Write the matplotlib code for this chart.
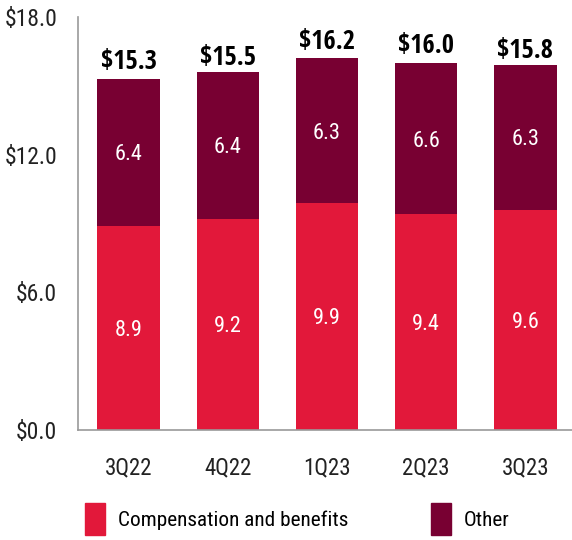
import matplotlib.pyplot as plt
import numpy as np
from matplotlib import font_manager
from matplotlib.patches import Patch

quarters = ["3Q22", "4Q22", "1Q23", "2Q23", "3Q23"]
comp = [8.9, 9.2, 9.9, 9.4, 9.6]
other = [6.4, 6.4, 6.3, 6.6, 6.3]
totals = [15.3, 15.5, 16.2, 16.0, 15.8]

red = "#E2183A"
maroon = "#780032"

# condensed font for regular text: light Open Sans Condensed if present
light_ok = any(f.name == 'Open Sans Condensed' and int(f.weight) <= 400
               for f in font_manager.fontManager.ttflist)
reg_family = ['Open Sans Condensed' if light_ok else 'Roboto Condensed', 'DejaVu Sans']
reg_weight = 300 if light_ok else 'normal'
bold_family = ['Open Sans Condensed', 'DejaVu Sans']

plt.rcParams['font.family'] = reg_family
plt.rcParams['font.weight'] = reg_weight

fig = plt.figure(figsize=(5.72, 5.4), dpi=100)
ax = fig.add_axes([78 / 572, 1 - 430 / 540, 494 / 572, 413 / 540])

x = np.arange(len(quarters))
w = 0.63
ax.bar(x, comp, w, color=red)
ax.bar(x, other, w, bottom=comp, color=maroon)

for i in range(len(quarters)):
    ax.text(x[i], comp[i] / 2, f"{comp[i]:.1f}", ha='center', va='center_baseline',
            color='white', fontsize=16)
    ax.text(x[i], comp[i] + other[i] / 2, f"{other[i]:.1f}", ha='center',
            va='center_baseline', color='white', fontsize=16)
    ax.text(x[i], totals[i] + 0.75, f"${totals[i]:.1f}", ha='center',
            va='center', color='black', fontsize=19, fontweight='bold',
            family=bold_family)

ax.set_xlim(-0.51, 4.47)
ax.set_ylim(0, 18)
ax.set_yticks([0, 6, 12, 18])
ax.set_yticklabels([f"${v:.1f}" for v in [0, 6, 12, 18]])
ax.set_xticks(x)
ax.set_xticklabels(quarters)
ax.tick_params(axis='both', length=0, colors='#222222')
ax.tick_params(axis='y', pad=15, labelsize=17)
ax.tick_params(axis='x', pad=19, labelsize=16.5)
for s in ['top', 'right']:
    ax.spines[s].set_visible(False)
for s in ['left', 'bottom']:
    ax.spines[s].set_color('#999999')
    ax.spines[s].set_linewidth(1.2)

handles = [Patch(color=red, label="Compensation and benefits"),
           Patch(color=maroon, label="Other")]
fig.legend(handles=handles, loc='center', bbox_to_anchor=(0.52, 1 - 519 / 540),
           ncol=2, frameon=False, fontsize=15.3, handlelength=0.95,
           handleheight=2.0, handletextpad=0.6, columnspacing=3.9)

fig.savefig("out.png", dpi=100)
